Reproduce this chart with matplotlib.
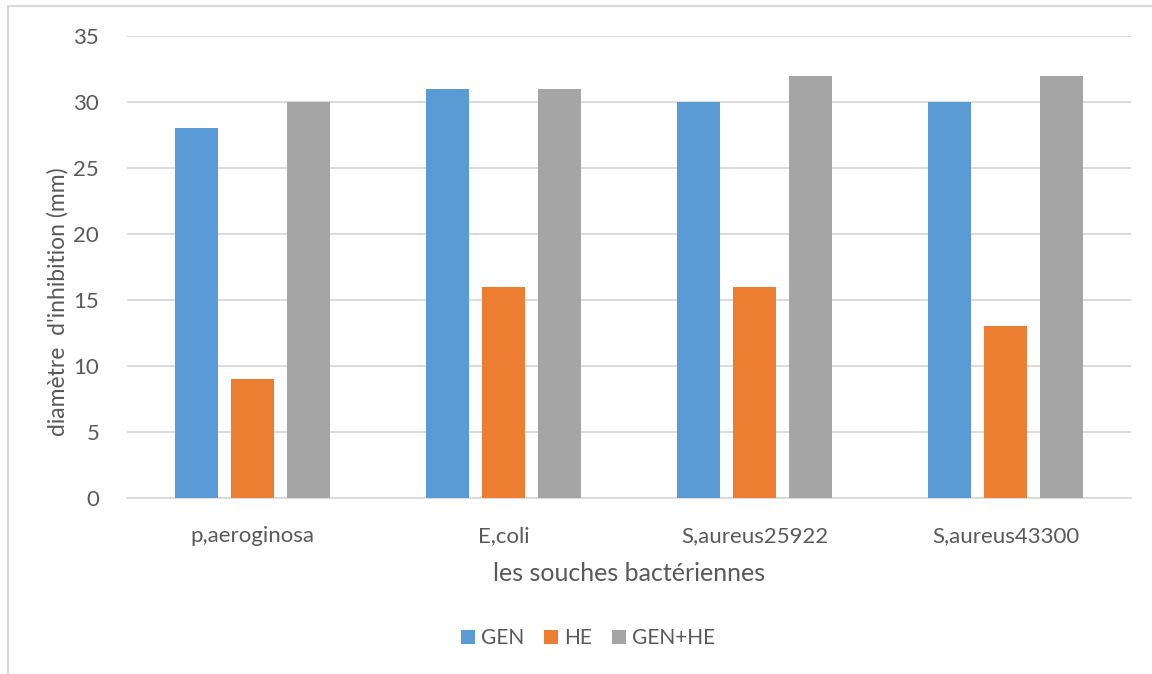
import matplotlib
matplotlib.use("Agg")
import matplotlib.pyplot as plt
from matplotlib.patches import Rectangle, Patch
import numpy as np

strains = ["p,aeroginosa", "E,coli", "S,aureus25922", "S,aureus43300"]
series_names = ["GEN", "HE", "GEN+HE"]
gen = [28, 31, 30, 30]
he = [9, 16, 16, 13]
gen_he = [30, 31, 32, 32]
colors = ["#5B9BD5", "#ED7D31", "#A5A5A5"]
y_ticks = [0, 5, 10, 15, 20, 25, 30, 35]

text_color = "#595959"
grid_color = "#D9D9D9"
font = ["Lato", "DejaVu Sans"]
plt.rcParams["font.family"] = font

W, H = 1152, 674
fig = plt.figure(figsize=(W / 100, H / 100), dpi=100)
ax = fig.add_axes([127 / W, 1 - 498 / H, (1131 - 127) / W, (498 - 36) / H])

x = np.arange(len(strains))
width = 0.175
step = 0.223
for i, (vals, name) in enumerate(zip([gen, he, gen_he], series_names)):
    ax.bar(x + (i - 1) * step, vals, width, color=colors[i], label=name, zorder=3)

ax.set_xlim(-0.5, len(strains) - 0.5)
ax.set_ylim(0, 35)
ax.set_yticks(y_ticks)
ax.set_xticks(x)
ax.set_xticklabels(strains)
ax.yaxis.grid(True, color=grid_color, linewidth=1.3, zorder=0)
ax.tick_params(axis="both", length=0, labelsize=16, colors=text_color)
ax.tick_params(axis="y", pad=20)
ax.tick_params(axis="x", pad=20)
for side in ["top", "right", "left"]:
    ax.spines[side].set_visible(False)
ax.spines["bottom"].set_color(grid_color)
ax.spines["bottom"].set_linewidth(1.3)

fig.text(58 / W, 1 - 302 / H, "diamètre  d'inhibition (mm)", rotation=90,
         ha="center", va="center", fontsize=16.5, color=text_color)
ax.set_xlabel("les souches bactériennes", fontsize=18, color=text_color, labelpad=12)

handles = [Patch(facecolor=c, edgecolor="none") for c in colors]
fig.legend(handles, series_names, loc="center", bbox_to_anchor=(588 / W, 1 - 638 / H),
           ncol=3, frameon=False, fontsize=15, labelcolor=text_color,
           handlelength=0.67, handleheight=0.67, handletextpad=0.3, columnspacing=0.95)

# chart-area frame
fig.patches.append(Rectangle((7.5 / W, -0.1), 1.2, 1 - 6.5 / H + 0.1,
                             transform=fig.transFigure, fill=False,
                             edgecolor=grid_color, linewidth=1.5, zorder=0))

fig.savefig("out.png", dpi=100, facecolor="white")
